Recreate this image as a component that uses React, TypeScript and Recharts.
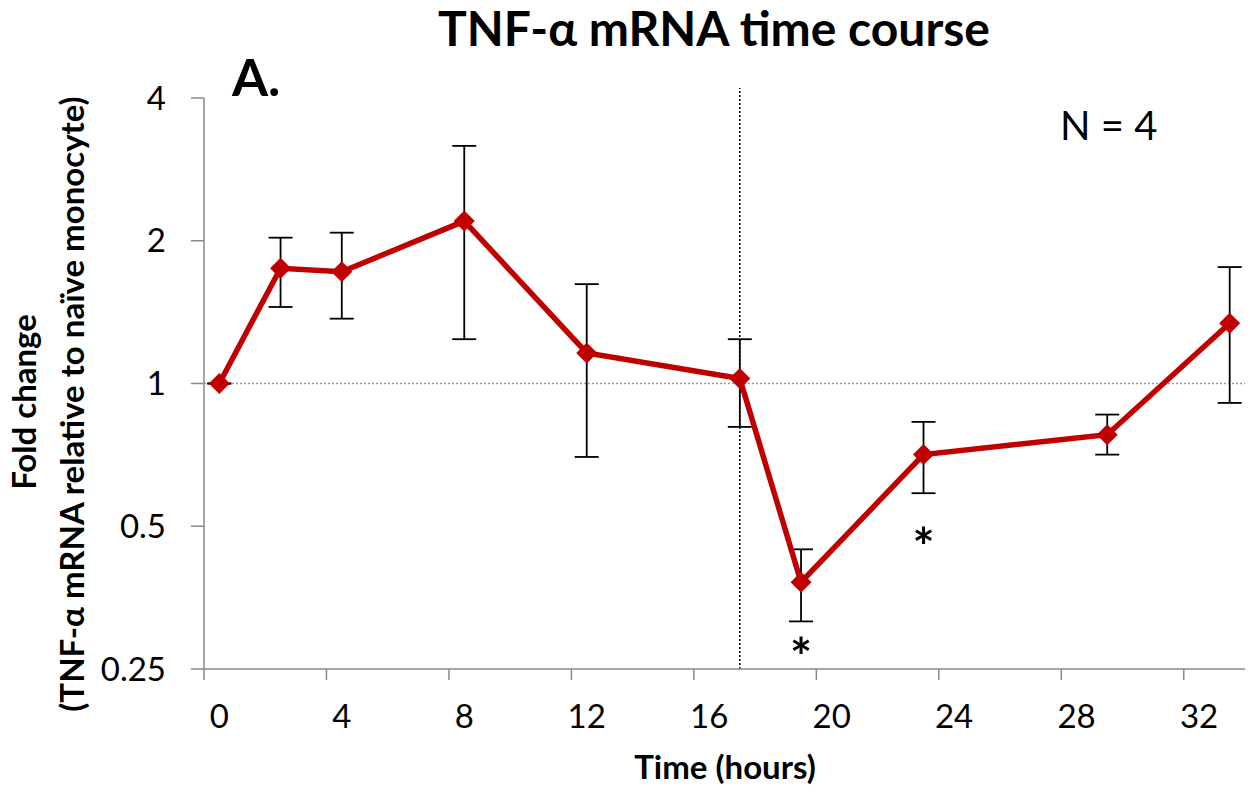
import React from "react";
import {
  LineChart,
  Line,
  XAxis,
  YAxis,
  ErrorBar,
  ReferenceLine,
  ReferenceDot,
} from "recharts";

// hours after stimulation and TNF-a fold change (mean with error range)
const hours = [0, 2, 4, 8, 12, 17, 19, 23, 29, 33];
const foldChange = [1.0, 1.75, 1.72, 2.2, 1.16, 1.025, 0.381, 0.708, 0.78, 1.34];
const upperBound = [1.0, 2.03, 2.08, 3.17, 1.62, 1.24, 0.447, 0.83, 0.86, 1.76];
const lowerBound = [1.0, 1.45, 1.37, 1.24, 0.7, 0.81, 0.315, 0.587, 0.708, 0.91];

const xTicks = [0, 4, 8, 12, 16, 20, 24, 28, 32];
const yTicks = [0.25, 0.5, 1, 2, 4];

// significance marks: hour and fold-change level of the asterisk
const starHours = [19, 23];
const starLevels = [0.282, 0.481];

const treatmentHour = 17;

const W = 1255;
const H = 792;
const MARGIN = { top: 98, right: 10, bottom: 0, left: 0 };
const Y_AXIS_W = 204;
const X_AXIS_H = 123;
const X_DOMAIN: [number, number] = [-0.5, 33.5];
const PX_PER_HOUR =
  (W - MARGIN.left - MARGIN.right - Y_AXIS_W) / (X_DOMAIN[1] - X_DOMAIN[0]);

const RED = "#C00000";
const AXIS = "#898989";
const FONT = "Lato, 'Open Sans', sans-serif";
const TICK_SIZE = 33;

const data = hours.map((h, i) => ({
  hour: h,
  fold: foldChange[i],
  err: [foldChange[i] - lowerBound[i], upperBound[i] - foldChange[i]],
}));

function Diamond(props: any) {
  const { cx, cy } = props;
  if (cx == null || cy == null) return null;
  const r = 10.5;
  return (
    <polygon
      points={`${cx},${cy - r} ${cx + r},${cy} ${cx},${cy + r} ${cx - r},${cy}`}
      fill={RED}
    />
  );
}

// Excel puts the tick marks between the hour labels
function HourTick(props: any) {
  const { x, y, payload } = props;
  const mx = x - PX_PER_HOUR / 2;
  return (
    <g>
      <line x1={mx} x2={mx} y1={y} y2={y + 11} stroke={AXIS} strokeWidth={1.5} />
      <text x={x} y={y + 59} textAnchor="middle" fontSize={TICK_SIZE} fill="#000" fontFamily={FONT}>
        {payload.value}
      </text>
    </g>
  );
}

function Star(props: any) {
  const { cx, cy } = props;
  return (
    <text x={cx} y={cy + 32} textAnchor="middle" fontSize={52} fontWeight="bold" fill="#000" fontFamily={FONT}>
      *
    </text>
  );
}

export default function App() {
  return (
    <div style={{ position: "absolute", left: 0, top: 0, width: W, height: H, fontFamily: FONT, background: "#fff" }}>
      <LineChart width={W} height={H} data={data} margin={MARGIN}>
        <XAxis
          dataKey="hour"
          type="number"
          domain={X_DOMAIN}
          ticks={xTicks}
          allowDataOverflow
          height={X_AXIS_H}
          stroke={AXIS}
          strokeWidth={1.5}
          tickLine={false}
          tickSize={0}
          tickMargin={0}
          tick={<HourTick />}
          interval={0}
        />
        <YAxis
          scale="log"
          domain={[0.25, 4]}
          ticks={yTicks}
          allowDataOverflow
          width={Y_AXIS_W}
          stroke={AXIS}
          strokeWidth={1.5}
          tickSize={13}
          tickMargin={25}
          tick={{ fill: "#000", fontSize: TICK_SIZE, fontFamily: FONT }}
          interval={0}
        />
        <ReferenceLine y={1} stroke="#9a9a9a" strokeWidth={1.5} strokeDasharray="2 2" />
        <ReferenceLine
          segment={[
            { x: treatmentHour, y: 0.25 },
            { x: treatmentHour, y: 4.2 },
          ]}
          ifOverflow="visible"
          stroke="#000"
          strokeWidth={1.5}
          strokeDasharray="2 2"
        />
        <Line
          dataKey="fold"
          stroke={RED}
          strokeWidth={5.5}
          dot={<Diamond />}
          activeDot={false}
          isAnimationActive={false}
        >
          <ErrorBar dataKey="err" direction="y" width={12} stroke="#000" strokeWidth={1.8} />
        </Line>
        {starHours.map((h, i) => (
          <ReferenceDot
            key={h}
            x={h}
            y={starLevels[i]}
            r={0}
            ifOverflow="visible"
            shape={<Star />}
          />
        ))}
      </LineChart>
      <svg
        width={W}
        height={H}
        style={{ position: "absolute", left: 0, top: 0, pointerEvents: "none" }}
        fontFamily={FONT}
      >
        <text x={714} y={46} textAnchor="middle" fontSize={48} fontWeight="bold" fill="#000">
          TNF-α mRNA time course
        </text>
        <text x={232} y={96} fontSize={52} fontWeight="bold" fill="#000">
          A.
        </text>
        <text x={1060} y={140} fontSize={40} fill="#000">
          N = 4
        </text>
        <text x={725} y={779} textAnchor="middle" fontSize={33} fontWeight="bold" fill="#000">
          Time (hours)
        </text>
        <text
          x={36}
          y={402}
          transform="rotate(-90 36 402)"
          textAnchor="middle"
          fontSize={33}
          fontWeight="bold"
          fill="#000"
        >
          Fold change
        </text>
        <text
          x={84}
          y={404}
          transform="rotate(-90 84 404)"
          textAnchor="middle"
          fontSize={33}
          fontWeight="bold"
          fill="#000"
        >
          (TNF-α mRNA relative to naïve monocyte)
        </text>
      </svg>
    </div>
  );
}
